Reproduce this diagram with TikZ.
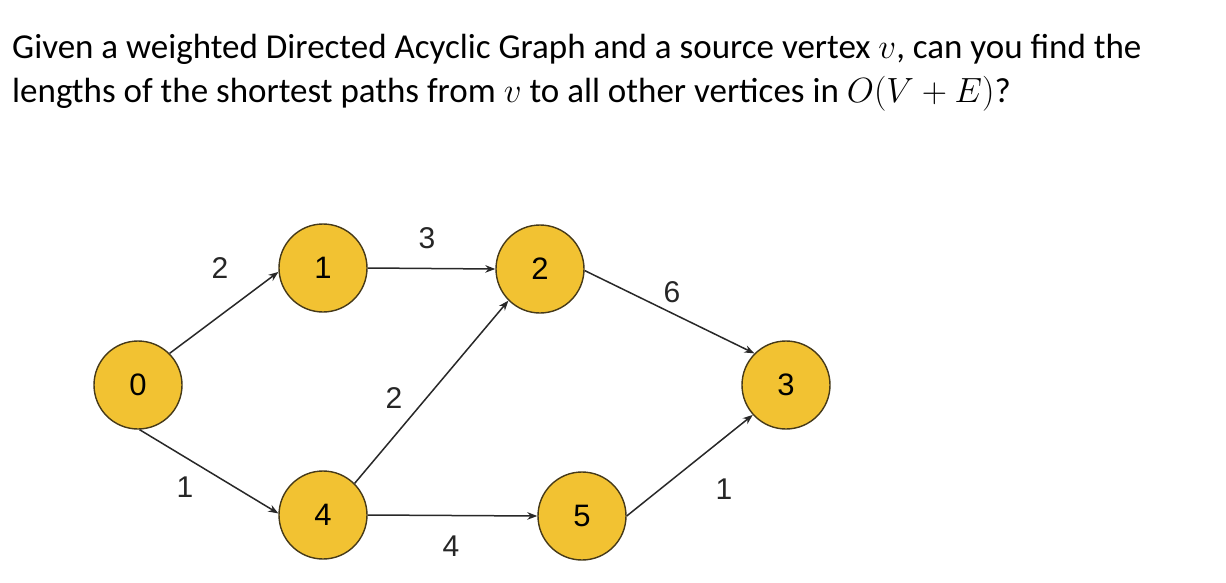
\RequirePackage{fix-cm}
\documentclass[tikz,border=0pt]{standalone}
\usepackage{fontspec}
\setmainfont{Carlito}
\newfontfamily\numfont{Liberation Sans}
\usetikzlibrary{arrows.meta}
\definecolor{nodefill}{RGB}{242,194,50}
\definecolor{nodeline}{RGB}{70,58,25}
\definecolor{edgecol}{RGB}{40,40,40}
\begin{document}
\begin{tikzpicture}[x=1pt,y=-1pt,
  vert/.style={circle, draw=nodeline, fill=nodefill, line width=1.4pt, minimum size=88pt, inner sep=0pt, font=\numfont\fontsize{31}{33}\selectfont},
  wlabel/.style={font=\numfont\fontsize{30}{32}\selectfont, text=black!85, inner sep=0pt},
  edge/.style={draw=edgecol, line width=1.5pt, -{Stealth[length=10pt,width=7.5pt]}},
  title/.style={anchor=base west, inner sep=0pt, font=\fontsize{35}{42}\selectfont}]
\useasboundingbox[fill=white] (0,0) rectangle (1226,583);
\node[title] (t1) at (12,59) {Given a weighted Directed Acyclic Graph and a source vertex $v$, can you find the};
\node[title] (t2) at (12,103) {lengths of the shortest paths from $v$ to all other vertices in $O(V+E)$?};
\node[vert] (n0) at (138,385) {0};
\node[vert] (n1) at (323,268) {1};
\node[vert] (n2) at (540,269) {2};
\node[vert] (n3) at (786,385) {3};
\node[vert] (n4) at (323,515) {4};
\node[vert] (n5) at (582,516) {5};
\draw[edge] (n0.45) -- (n1.185);
\draw[edge] (n0.-88) -- (n4.178);
\draw[edge] (n1.east) -- (n2.west);
\draw[edge] (n4.45) -- (n2.225);
\draw[edge] (n2.-2) -- (n3.135);
\draw[edge] (n4.east) -- (n5.west);
\draw[edge] (n5.0) -- (n3.222);
\node[wlabel] (l01) at (220,268) {2};
\node[wlabel] (l12) at (427,238) {3};
\node[wlabel] (l23) at (672,292) {6};
\node[wlabel] (l42) at (394,398) {2};
\node[wlabel] (l04) at (185,487) {1};
\node[wlabel] (l53) at (724,489) {1};
\node[wlabel] (l45) at (451,546) {4};
\end{tikzpicture}
\end{document}
